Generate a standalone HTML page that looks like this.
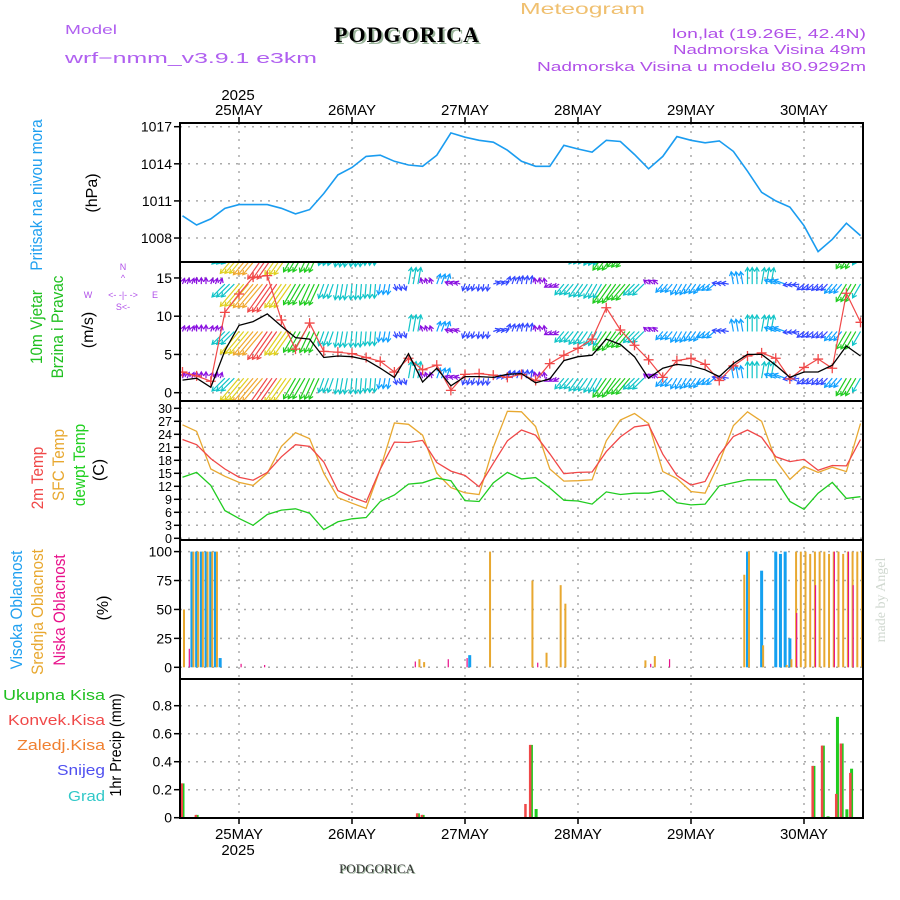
<!DOCTYPE html>
<html><head><meta charset="utf-8">
<style>
html,body{margin:0;padding:0;background:#fff;}
svg{display:block;font-family:"Liberation Sans",sans-serif;}
</style></head>
<body>
<svg id="chart" width="900" height="900" viewBox="0 0 900 900" xmlns="http://www.w3.org/2000/svg">
  <defs>
    <clipPath id="cp1"><rect x="181" y="124" width="681" height="137"/></clipPath>
    <clipPath id="cp2"><rect x="181" y="263" width="681" height="137"/></clipPath>
    <clipPath id="cp3"><rect x="181" y="402" width="681" height="137"/></clipPath>
    <clipPath id="cp4"><rect x="181" y="541" width="681" height="137"/></clipPath>
    <clipPath id="cp5"><rect x="181" y="680" width="681" height="137"/></clipPath>
  </defs>
  <!-- header -->
  <text x="65" y="34" font-size="13" fill="#b060f0" textLength="52" lengthAdjust="spacingAndGlyphs">Model</text>
  <text x="65" y="63" font-size="15" fill="#b060f0" textLength="252" lengthAdjust="spacingAndGlyphs">wrf−nmm_v3.9.1 e3km</text>
  <text x="409" y="44" font-size="22" font-weight="bold" font-family="Liberation Serif, serif" fill="#9bb59b" text-anchor="middle" letter-spacing="1">PODGORICA</text>
  <text x="407" y="42" font-size="22" font-weight="bold" font-family="Liberation Serif, serif" fill="#000" text-anchor="middle" letter-spacing="1">PODGORICA</text>
  <text x="520" y="14" font-size="16" fill="#f0c070" textLength="125" lengthAdjust="spacingAndGlyphs">Meteogram</text>
  <text x="672" y="38" font-size="13" fill="#b050e8" textLength="194" lengthAdjust="spacingAndGlyphs">lon,lat (19.26E, 42.4N)</text>
  <text x="673" y="54" font-size="13" fill="#b050e8" textLength="193" lengthAdjust="spacingAndGlyphs">Nadmorska Visina 49m</text>
  <text x="537" y="71" font-size="13" fill="#b050e8" textLength="329" lengthAdjust="spacingAndGlyphs">Nadmorska Visina u modelu 80.9292m</text>
  <text x="238" y="100" font-size="15" text-anchor="middle">2025</text>
  <text x="238" y="855" font-size="15" text-anchor="middle">2025</text>
  <text x="378" y="874" font-size="13" font-family="Liberation Serif, serif" fill="#9bb59b" text-anchor="middle">PODGORICA</text>
  <text x="377" y="873" font-size="13" font-family="Liberation Serif, serif" fill="#333" text-anchor="middle">PODGORICA</text>
  <text transform="translate(885,600) rotate(-90)" font-size="14" font-family="Liberation Serif, serif" fill="#d0d8d0" text-anchor="middle">made by Angel</text>

  <!-- left axis titles -->
  <text transform="translate(42,195) rotate(-90) scale(0.9,1)" font-size="17" fill="#20a0f0" text-anchor="middle">Pritisak na nivou mora</text>
  <text transform="translate(97,193) rotate(-90)" font-size="16" fill="#000" text-anchor="middle">(hPa)</text>
  <text transform="translate(42,327) rotate(-90) scale(0.9,1)" font-size="17" fill="#20c020" text-anchor="middle">10m Vjetar</text>
  <text transform="translate(63,327) rotate(-90) scale(0.9,1)" font-size="17" fill="#20c020" text-anchor="middle">Brzina i Pravac</text>
  <text transform="translate(93,330) rotate(-90)" font-size="16" fill="#000" text-anchor="middle">(m/s)</text>
  <g fill="#b050e8" font-size="9" text-anchor="middle">
    <text x="123" y="270">N</text><text x="123" y="281">^</text>
    <text x="88" y="298">W</text><text x="155" y="298">E</text>
    <text x="123" y="298">&lt;- -|- -&gt;</text>
    <text x="123" y="310">S&lt;-</text>
  </g>
  <text transform="translate(43,478) rotate(-90) scale(0.9,1)" font-size="17" fill="#f04848" text-anchor="middle">2m Temp</text>
  <text transform="translate(64,465) rotate(-90) scale(0.9,1)" font-size="17" fill="#e8a830" text-anchor="middle">SFC Temp</text>
  <text transform="translate(85,465) rotate(-90) scale(0.9,1)" font-size="17" fill="#20d020" text-anchor="middle">dewpt Temp</text>
  <text transform="translate(104,470) rotate(-90)" font-size="16" fill="#000" text-anchor="middle">(C)</text>
  <text transform="translate(22,610) rotate(-90) scale(0.9,1)" font-size="17" fill="#20a0f0" text-anchor="middle">Visoka Oblacnost</text>
  <text transform="translate(43,612) rotate(-90) scale(0.9,1)" font-size="17" fill="#e8a830" text-anchor="middle">Srednja Oblacnost</text>
  <text transform="translate(65,610) rotate(-90) scale(0.9,1)" font-size="17" fill="#e8108a" text-anchor="middle">Niska Oblacnost</text>
  <text transform="translate(108,608) rotate(-90)" font-size="16" fill="#000" text-anchor="middle">(%)</text>
  <g font-size="15">
    <text x="3" y="700" fill="#20c020" textLength="102" lengthAdjust="spacingAndGlyphs">Ukupna Kisa</text>
    <text x="8" y="725" fill="#f04848" textLength="97" lengthAdjust="spacingAndGlyphs">Konvek.Kisa</text>
    <text x="17" y="750" fill="#f08030" textLength="88" lengthAdjust="spacingAndGlyphs">Zaledj.Kisa</text>
    <text x="57" y="775" fill="#5050f0" textLength="48" lengthAdjust="spacingAndGlyphs">Snijeg</text>
    <text x="68" y="801" fill="#30c8c8" textLength="37" lengthAdjust="spacingAndGlyphs">Grad</text>
  </g>
  <text transform="translate(121,745) rotate(-90) scale(0.9,1)" font-size="16" fill="#000" text-anchor="middle">1hr Precip (mm)</text>

  <g id="grid"></g>
  <g id="marks"></g>
  <g id="frame"></g>
</svg>
<script>
// ---- data (3-hourly, h = 0,3,...,144 starting 24 May 12Z) ----
const dayLabels = ["25MAY","26MAY","27MAY","28MAY","29MAY","30MAY"];
const pressureTicks = [1017,1014,1011,1008];
const windTicks = [15,10,5,0];
const tempTicks = [30,27,24,21,18,15,12,9,6,3,0];
const cloudTicks = [100,75,50,25,0];
const precipTicks = [0.8,0.6,0.4,0.2,0];
const pressure = [1009.8,1009.05,1009.55,1010.4,1010.7,1010.7,1010.7,1010.4,1009.95,1010.3,1011.6,1013.1,1013.7,1014.6,1014.7,1014.2,1013.9,1013.8,1014.7,1016.5,1016.15,1015.9,1015.75,1015.1,1014.2,1013.8,1013.8,1015.5,1015.2,1014.95,1015.9,1015.8,1014.75,1013.6,1014.6,1016.2,1015.9,1015.7,1015.85,1015.0,1013.4,1011.7,1011.0,1010.5,1009.0,1006.9,1007.9,1009.2,1008.2];
const windSpeed = [1.65,1.9,0.7,5.5,8.8,9.3,10.3,8.7,7.2,7.0,4.6,4.8,4.7,4.3,3.2,2.0,5.1,1.4,3.2,0.9,2.1,2.1,2.0,2.4,2.5,1.3,1.8,4.2,4.7,4.9,7.0,6.3,4.7,1.9,3.2,3.7,3.5,3.0,2.1,3.8,5.0,5.0,3.6,2.0,2.7,2.7,3.6,6.1,4.8];
const windGust = [2.7,2.2,1.5,10.5,12.9,15.1,15.3,9.5,5.7,9.1,5.4,5.3,5.1,4.6,4.1,2.7,4.5,3.0,3.6,0.3,2.4,2.5,2.3,2.0,2.4,1.6,3.8,4.9,5.8,7.0,11.1,8.2,6.2,4.3,2.0,4.2,4.5,3.7,1.6,3.5,4.8,5.2,4.5,1.8,3.3,4.4,3.2,13.0,9.2];
const windDir = [200,180,200,45,40,40,35,35,30,25,20,10,5,5,10,340,190,160,200,110,20,10,250,200,190,170,60,40,35,30,35,40,45,130,40,30,35,50,100,170,180,190,110,80,50,45,40,30,30];
const temp2m = [22.8,21.6,18.4,16.0,14.1,13.4,15.2,18.8,21.6,21.2,17.6,11.0,9.5,8.3,16.0,22.2,22.1,22.6,17.5,15.5,14.5,11.9,17.3,22.5,25.0,23.8,19.5,14.9,15.2,15.3,20.0,23.4,25.7,26.2,19.4,14.5,12.3,13.1,19.3,23.5,25.0,23.3,18.8,17.7,18.2,15.7,16.8,16.7,22.8];
const tempSfc = [26.2,24.7,16.0,14.3,12.9,12.2,15.0,21.2,24.4,23.0,15.0,9.4,8.1,6.9,16.0,26.6,26.3,23.8,15.0,11.7,10.5,10.1,21.0,29.3,29.2,25.8,16.0,13.2,13.3,13.5,22.5,27.3,28.8,26.5,15.4,13.8,10.8,10.4,17.5,26.0,29.2,27.0,18.0,13.6,16.6,15.2,16.4,15.4,26.5];
const dewpt = [14.1,15.2,12.2,6.4,4.6,3.0,5.5,6.5,6.8,5.8,2.0,3.8,4.5,4.8,8.5,10.0,12.5,12.8,13.9,13.3,8.7,8.5,12.8,15.2,13.7,14.0,11.6,8.8,8.6,7.9,10.7,10.1,10.4,10.4,11.0,8.2,7.7,7.9,12.1,12.8,13.5,13.5,13.5,8.5,6.7,10.4,12.9,9.2,9.6];
// cloud cover: hour index + value (%)
const highCloudHours = [2,3,4,5,6,7,8,61,120,123,126,127,128,129];
const highCloudVals  = [100,100,100,100,100,100,8,10.5,100,83.5,100,98,100,25];
const midCloudHours = [0,2,3,4,5,6,7,50,51,65,74,77,80,81,98,100,119,120,123,128,129,130,131,132,133,134,135,136,137,138,139,140,141,142,143,144];
const midCloudVals  = [50,100,100,100,100,100,100,7,4.5,100,75,12.6,71,55,6,9.7,80,100,19,2,7,100,100,100,98,100,100,100,98,100,100,98,100,100,100,100];
const lowCloudHours = [1,12,17,49,56,60,75,99,103,130,134,138,141,142];
const lowCloudVals  = [16,3,2,5,7,8,4,3,7,47,71,100,100,71];
// precipitation: hour index + mm
const totalPrecipHours = [0,3,50,51,74,75,134,136,137,139,140,141,142];
const totalPrecipVals  = [0.245,0.02,0.031,0.02,0.52,0.062,0.37,0.515,0.01,0.72,0.53,0.06,0.35];
const convPrecipHours = [0,3,50,51,73,74,134,136,139,140,142];
const convPrecipVals  = [0.245,0.02,0.031,0.02,0.098,0.52,0.37,0.515,0.17,0.53,0.32];

// ---- scales ----
const X = h => 239 + (h - 12) * 113 / 24;
const YP = v => 126.7 + (1017 - v) * 12.37;
const YW = v => 392.7 - v * 7.65;
const YT = v => 538.3 - v * 4.333;
const YC = v => 667.3 - v * 1.157;
const YR = v => 817.7 - v * 140;

const NS = "http://www.w3.org/2000/svg";
function mk(tag, attrs, parent) {
  const e = document.createElementNS(NS, tag);
  for (const k in attrs) e.setAttribute(k, attrs[k]);
  parent.appendChild(e);
  return e;
}
const grid = document.getElementById('grid');
const marks = document.getElementById('marks');
const frame = document.getElementById('frame');
const L = 180, R = 863;
const panels = [[123,262],[262,401],[401,540],[540,679],[679,818]];

function yAxis(ticks, sc, fs, name, fmt) {
  ticks.forEach(t => {
    const y = sc(t);
    const g = mk('line', {x1:L, x2:R, y1:y, y2:y, stroke:'#aaa', 'stroke-width':1.5, 'stroke-dasharray':'2,6'}, grid);
    
    
    const tk = mk('line', {x1:L-6, x2:L, y1:y, y2:y, stroke:'#000', 'stroke-width':1.5}, frame);
    
    
    const tx = mk('text', {x:L-8, y:y+fs*0.36, 'font-size':fs, 'text-anchor':'end', fill:'#000'}, frame);
    tx.textContent = fmt ? fmt(t) : t;
    
    
  });
}
yAxis(pressureTicks, YP, 14, 'pressure');
yAxis(windTicks, YW, 14, 'wind');
yAxis(tempTicks, YT, 12.5, 'temp');
yAxis(cloudTicks, YC, 14, 'cloud');
yAxis(precipTicks, YR, 14, 'precip', t => t === 0 ? '0' : t.toFixed(1));

dayLabels.forEach((d, i) => {
  const x = X(24 * i + 12);
  const vl = mk('line', {x1:x, x2:x, y1:123, y2:818, stroke:'#aaa', 'stroke-width':1.5, 'stroke-dasharray':'2,6'}, grid);
  
  
  const t1 = mk('line', {x1:x, x2:x, y1:117, y2:123, stroke:'#000', 'stroke-width':1.5}, frame);
  
  
  const t2 = mk('line', {x1:x, x2:x, y1:818, y2:824, stroke:'#000', 'stroke-width':1.5}, frame);
  
  
  const a = mk('text', {x:x, y:115, 'font-size':15, 'text-anchor':'middle'}, frame);
  a.textContent = d;
  
  
  const b = mk('text', {x:x, y:839, 'font-size':15, 'text-anchor':'middle'}, frame);
  b.textContent = d;
  
  
});

panels.forEach((p, i) => {
  const r = mk('rect', {x:L, y:p[0], width:R-L, height:p[1]-p[0], fill:'none', stroke:'#000', 'stroke-width':2}, frame);
  
  
});

function linePath(vals, sc) {
  return vals.map((v, k) => (k ? 'L' : 'M') + X(3*k).toFixed(1) + ',' + sc(v).toFixed(1)).join('');
}
const g1 = mk('g', {'clip-path':'url(#cp1)'}, marks);
const pl = mk('path', {d:linePath(pressure, YP), fill:'none', stroke:'#1a9cf0', 'stroke-width':1.6}, g1);



const g2 = mk('g', {'clip-path':'url(#cp2)'}, marks);
function windColor(s) {
  if (s < 2) return '#8a10e0';
  if (s < 3) return '#3348ff';
  if (s < 4) return '#10a0ff';
  if (s < 6) return '#10c4c8';
  if (s < 8) return '#20cc20';
  if (s < 9) return '#e0d020';
  if (s < 10) return '#f0a830';
  if (s < 12) return '#f04848';
  return '#f02090';
}
const rowLevels = [18.5, 14.2, 8.0, 1.9];
for (let h = 0; h <= 144; h++) {
  const k = Math.min(48, Math.floor(h / 3));
  const s = windSpeed[k], d = windDir[k] * Math.PI / 180;
  const len = Math.max(6, s * 3.3);
  const dx = -Math.sin(d) * len, dy = Math.cos(d) * len;
  const col = windColor(s);
  rowLevels.forEach(lv => {
    const x0 = X(h), y0 = YW(lv);
    const x1 = x0 + dx, y1 = y0 + dy;
    const ux = dx / len, uy = dy / len, hs = 4;
    const ax = x1 - ux*hs - uy*hs*0.6, ay = y1 - uy*hs + ux*hs*0.6;
    const bx = x1 - ux*hs + uy*hs*0.6, by = y1 - uy*hs - ux*hs*0.6;
    const ar = mk('path', {d:`M${x0.toFixed(1)},${y0.toFixed(1)}L${x1.toFixed(1)},${y1.toFixed(1)}M${ax.toFixed(1)},${ay.toFixed(1)}L${x1.toFixed(1)},${y1.toFixed(1)}L${bx.toFixed(1)},${by.toFixed(1)}`, fill:'none', stroke:col, 'stroke-width':1.2}, g2);
    
    
  });
}
const gl = mk('path', {d:linePath(windGust, YW), fill:'none', stroke:'#f04848', 'stroke-width':1.2}, g2);


windGust.forEach((v, k) => {
  const x = X(3*k), y = YW(v);
  const m = mk('path', {d:`M${x-5},${y}H${x+5}M${x},${y-5}V${y+5}`, stroke:'#f04848', 'stroke-width':1.3}, g2);
  
  
});
const wl = mk('path', {d:linePath(windSpeed, YW), fill:'none', stroke:'#000', 'stroke-width':1.3}, g2);



const g3 = mk('g', {'clip-path':'url(#cp3)'}, marks);
const tl1 = mk('path', {d:linePath(tempSfc, YT), fill:'none', stroke:'#e8a830', 'stroke-width':1.3}, g3);


const tl2 = mk('path', {d:linePath(temp2m, YT), fill:'none', stroke:'#f04848', 'stroke-width':1.3}, g3);


const tl3 = mk('path', {d:linePath(dewpt, YT), fill:'none', stroke:'#20cc20', 'stroke-width':1.3}, g3);



const g4 = mk('g', {'clip-path':'url(#cp4)'}, marks);
function bars(hours, vals, sc, base, col, off, w, name, g) {
  hours.forEach((h, i) => {
    const y = sc(vals[i]);
    const b = mk('rect', {x:X(h)+off, y:y, width:w, height:Math.max(0.5, base - y), fill:col}, g);
    
    
  });
}
bars(highCloudHours, highCloudVals, YC, YC(0), '#14a0f0', -1.5, 3, 'high-cloud-bar', g4);
bars(midCloudHours, midCloudVals, YC, YC(0), '#e8a830', 0.5, 2, 'mid-cloud-bar', g4);
bars(lowCloudHours, lowCloudVals, YC, YC(0), '#e8108a', 1.5, 1.2, 'low-cloud-bar', g4);

const g5 = mk('g', {'clip-path':'url(#cp5)'}, marks);
bars(totalPrecipHours, totalPrecipVals, YR, YR(0), '#20cc20', -1, 3, 'total-precip-bar', g5);
bars(convPrecipHours, convPrecipVals, YR, YR(0), '#f04848', -2, 2.5, 'convective-precip-bar', g5);
const zl = mk('line', {x1:L, x2:R, y1:YR(0), y2:YR(0), stroke:'#000', 'stroke-width':1.5, 'stroke-dasharray':'4,3'}, g5);


</script>
</body></html>
